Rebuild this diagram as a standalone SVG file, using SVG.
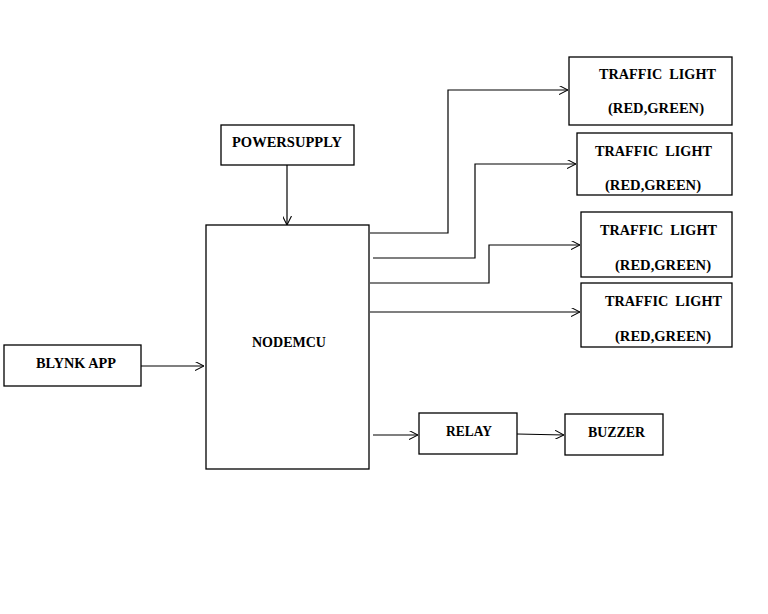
<svg xmlns="http://www.w3.org/2000/svg" width="768" height="614" viewBox="0 0 768 614">
<style>
.box{fill:#fff;stroke:#000;stroke-width:1.3}
.t{font-family:"Liberation Serif","Times New Roman",serif;font-weight:bold;font-size:15px;fill:#000}
.c{fill:none;stroke:#000;stroke-width:1.2}
</style>
<defs>
<marker id="a" viewBox="0 0 10 10" refX="10" refY="5" markerWidth="9" markerHeight="9" markerUnits="userSpaceOnUse" orient="auto">
<path d="M0,0 L10,5 L0,10" fill="none" stroke="#000" stroke-width="1.2"/>
</marker>
</defs>
<rect width="768" height="614" fill="#fff"/>
<g id="connectors">
<path class="c" d="M287,165 V225" marker-end="url(#a)"/>
<path class="c" d="M141,366 H204" marker-end="url(#a)"/>
<path class="c" d="M370,233 H448 V90 H568" marker-end="url(#a)"/>
<path class="c" d="M373,258 H475 V164 H576" marker-end="url(#a)"/>
<path class="c" d="M370,283 H489 V245 H580" marker-end="url(#a)"/>
<path class="c" d="M370,312 H580" marker-end="url(#a)"/>
<path class="c" d="M373,435 H418" marker-end="url(#a)"/>
<path class="c" d="M517,434 L564,435" marker-end="url(#a)"/>
</g>
<g id="powersupply">
<rect class="box" x="221" y="125" width="133" height="40"/>
<text class="t" x="232" y="147" textLength="110" lengthAdjust="spacingAndGlyphs">POWERSUPPLY</text>
</g>
<g id="nodemcu">
<rect class="box" x="206" y="225" width="163" height="244"/>
<text class="t" x="252" y="347" textLength="74" lengthAdjust="spacingAndGlyphs">NODEMCU</text>
</g>
<g id="blynk">
<rect class="box" x="4" y="345" width="137" height="41"/>
<text class="t" x="36" y="368" textLength="80" lengthAdjust="spacingAndGlyphs">BLYNK APP</text>
</g>
<g id="tl1">
<rect class="box" x="569" y="57" width="163" height="68"/>
<text class="t" x="599" y="79" textLength="117" lengthAdjust="spacingAndGlyphs" xml:space="preserve">TRAFFIC  LIGHT</text>
<text class="t" x="608" y="113" textLength="96" lengthAdjust="spacingAndGlyphs">(RED,GREEN)</text>
</g>
<g id="tl2">
<rect class="box" x="577" y="133" width="155" height="62"/>
<text class="t" x="595" y="156" textLength="117" lengthAdjust="spacingAndGlyphs" xml:space="preserve">TRAFFIC  LIGHT</text>
<text class="t" x="605" y="190" textLength="96" lengthAdjust="spacingAndGlyphs">(RED,GREEN)</text>
</g>
<g id="tl3">
<rect class="box" x="581" y="212" width="151" height="65"/>
<text class="t" x="600" y="235" textLength="117" lengthAdjust="spacingAndGlyphs" xml:space="preserve">TRAFFIC  LIGHT</text>
<text class="t" x="615" y="270" textLength="96" lengthAdjust="spacingAndGlyphs">(RED,GREEN)</text>
</g>
<g id="tl4">
<rect class="box" x="581" y="283" width="151" height="64"/>
<text class="t" x="605" y="306" textLength="117" lengthAdjust="spacingAndGlyphs" xml:space="preserve">TRAFFIC  LIGHT</text>
<text class="t" x="615" y="341" textLength="96" lengthAdjust="spacingAndGlyphs">(RED,GREEN)</text>
</g>
<g id="relay">
<rect class="box" x="419" y="413" width="98" height="41"/>
<text class="t" x="446" y="436" textLength="46" lengthAdjust="spacingAndGlyphs">RELAY</text>
</g>
<g id="buzzer">
<rect class="box" x="565" y="414" width="98" height="41"/>
<text class="t" x="588" y="437" textLength="57" lengthAdjust="spacingAndGlyphs">BUZZER</text>
</g>
</svg>
